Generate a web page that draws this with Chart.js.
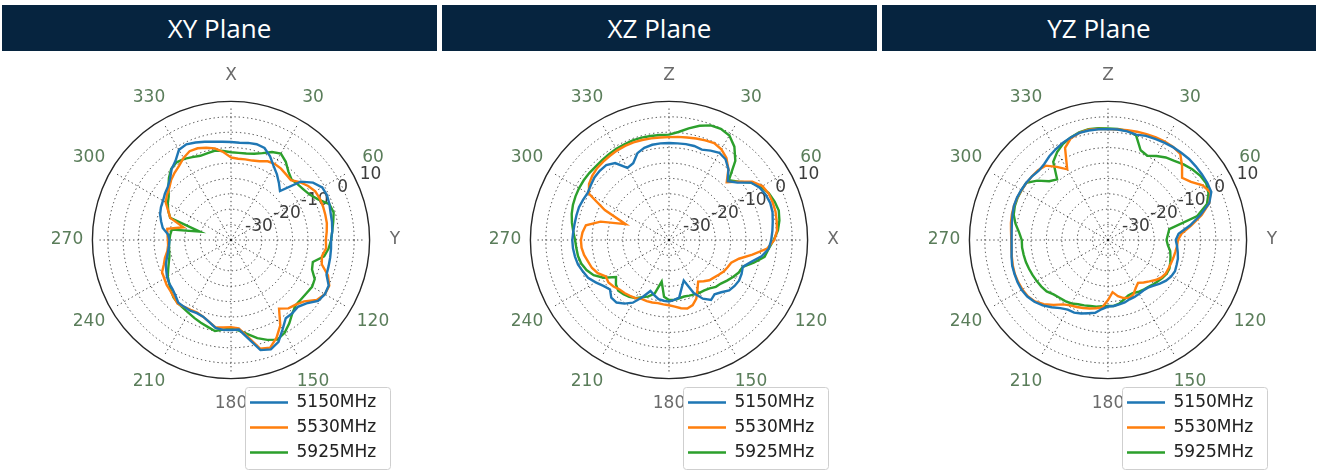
<!DOCTYPE html>
<html>
<head>
<meta charset="utf-8">
<script src="https://cdn.jsdelivr.net/npm/chart.js@4.4.0/dist/chart.umd.min.js"></script>
<style>
  body { margin: 0; width: 1318px; height: 474px; background: #fff; position: relative; overflow: hidden; }
  .bar { position: absolute; top: 5px; height: 46px; background: #06243f; color: #fff;
         font: 26px 'Open Sans', sans-serif; display: flex; align-items: center; justify-content: center; }
  .plot { position: absolute; top: 40px; width: 437px; height: 434px; }
</style>
</head>
<body>
<div class="bar" style="left:2px;width:435px">XY Plane</div>
<div class="bar" style="left:442px;width:435px">XZ Plane</div>
<div class="bar" style="left:882px;width:434px">YZ Plane</div>
<div class="plot" style="left:1px"><canvas id="xy"></canvas></div>
<div class="plot" style="left:439px"><canvas id="xz"></canvas></div>
<div class="plot" style="left:878px"><canvas id="yz"></canvas></div>
<script>
// angle in degrees, 0 at top, clockwise
const ANGLES = [0, 5, 10, 15, 20, 25, 30, 35, 40, 45, 50, 55,
  60, 65, 70, 75, 80, 85, 90, 95, 100, 105, 110, 115,
  120, 125, 130, 135, 140, 145, 150, 155, 160, 165, 170, 175,
  180, 185, 190, 195, 200, 205, 210, 215, 220, 225, 230, 235,
  240, 245, 250, 255, 260, 265, 270, 275, 280, 285, 290, 295,
  300, 305, 310, 315, 320, 325, 330, 335, 340, 345, 350, 355];

const ANGLE_LABELS = [0, 30, 60, 90, 120, 150, 180, 210, 240, 270, 300, 330];
const SERIES_NAMES = ['5150MHz', '5530MHz', '5925MHz'];
const COLORS = ['#1f77b4', '#ff7f0e', '#2ca02c'];
const RADIAL_TICKS = [-30, -20, -10, 0, 10];

// gain in dB, one value per angle above
const XY_5150 = [-8.2, -8.3, -8.0, -7.8, -8.2, -10.0, -12.3, -14.0, -15.8, -17.5, -10.5, -7.5,
  -5.8, -5.6, -6.0, -6.5, -6.7, -7.0, -7.5, -7.4, -7.3, -7.2, -7.0, -5.0,
  -4.8, -5.5, -8.0, -9.3, -9.0, -9.0, -6.5, -3.5, -2.2, -3.0, -7.5, -10.8,
  -10.8, -10.7, -11.0, -12.5, -13.5, -13.8, -13.5, -13.5, -13.4, -14.5, -15.2, -15.5,
  -16.0, -16.8, -17.5, -18.5, -19.3, -19.8, -20.0, -19.5, -17.5, -16.5, -15.5, -14.9,
  -14.5, -13.8, -13.2, -12.0, -10.0, -8.6, -6.2, -5.7, -6.3, -7.0, -7.6, -8.0];
const XY_5530 = [-13.2, -13.5, -13.4, -13.3, -12.8, -11.8, -11.5, -11.7, -12.2, -12.5, -10.8, -9.4,
  -8.4, -8.2, -8.2, -8.3, -8.4, -8.8, -9.2, -9.0, -10.0, -9.5, -6.5, -4.8,
  -4.8, -6.0, -9.0, -10.3, -11.0, -12.8, -8.0, -5.0, -2.8, -3.5, -8.0, -11.2,
  -11.7, -11.5, -11.2, -12.5, -13.5, -14.0, -13.8, -13.5, -13.0, -13.8, -14.3, -14.5,
  -15.0, -15.3, -16.8, -17.8, -19.0, -19.5, -19.5, -19.3, -19.0, -24.0, -19.0, -17.5,
  -15.5, -14.6, -13.8, -12.5, -11.5, -10.6, -9.2, -8.2, -8.3, -9.0, -9.8, -11.3];
const XY_5925 = [-11.5, -11.6, -11.5, -11.0, -10.0, -8.5, -7.6, -9.0, -11.0, -12.2, -11.8, -11.3,
  -10.5, -8.8, -6.0, -5.5, -6.3, -7.0, -7.5, -8.2, -9.3, -12.5, -12.0, -10.0,
  -9.6, -10.0, -10.2, -10.2, -9.0, -7.0, -5.2, -4.3, -5.5, -7.0, -9.0, -10.5,
  -11.3, -10.8, -10.0, -10.8, -11.4, -12.0, -12.6, -13.0, -13.2, -13.6, -14.5, -15.5,
  -16.3, -17.5, -18.5, -19.3, -19.6, -19.8, -20.0, -20.2, -20.5, -29.5, -19.0, -17.5,
  -16.3, -15.3, -13.5, -11.5, -9.8, -9.2, -9.6, -10.3, -10.9, -10.8, -10.5, -11.0];

const XZ_5150 = [-8.5, -8.5, -8.4, -8.4, -8.8, -8.0, -7.3, -8.0, -10.0, -13.0, -11.0, -7.5,
  -6.0, -5.3, -5.0, -5.2, -5.8, -6.3, -6.8, -7.5, -9.5, -12.5, -14.5, -14.0,
  -13.7, -14.0, -14.5, -16.0, -17.0, -16.2, -18.0, -21.0, -26.0, -24.0, -21.0, -20.5,
  -20.0, -20.2, -20.5, -21.5, -22.4, -19.5, -16.5, -14.8, -13.5, -13.5, -15.0, -14.0,
  -12.5, -11.0, -10.2, -9.4, -9.0, -8.7, -8.6, -8.8, -8.9, -8.9, -8.9, -9.2,
  -9.5, -9.0, -8.4, -8.2, -8.3, -9.5, -13.0, -12.5, -10.0, -9.0, -8.6, -8.5];
const XZ_5530 = [-6.6, -6.4, -6.2, -5.9, -5.6, -5.3, -6.0, -7.5, -10.0, -13.5, -10.5, -7.0,
  -5.0, -4.3, -4.2, -4.2, -4.5, -4.8, -5.8, -8.0, -12.5, -16.5, -18.5, -19.0,
  -19.5, -20.3, -21.0, -21.5, -22.5, -23.5, -21.5, -19.0, -17.5, -17.0, -17.5, -18.3,
  -18.8, -19.0, -19.2, -19.0, -18.9, -18.9, -18.2, -17.9, -17.5, -17.3, -16.5, -16.0,
  -16.3, -14.5, -13.4, -12.8, -12.0, -11.5, -11.4, -11.8, -12.6, -17.0, -25.0, -17.0,
  -10.0, -8.3, -7.5, -7.0, -6.8, -6.6, -6.4, -6.3, -6.3, -6.4, -6.5, -6.6];
const XZ_5925 = [-5.8, -4.8, -3.2, -1.6, -0.4, -0.2, -0.8, -3.0, -6.5, -12.5, -10.5, -7.5,
  -5.5, -4.2, -3.5, -3.1, -3.6, -4.5, -6.0, -7.5, -8.5, -11.5, -14.5, -15.0,
  -16.0, -17.0, -18.0, -18.5, -19.5, -20.0, -20.2, -20.5, -20.8, -21.0, -20.8, -20.5,
  -20.5, -21.5, -26.3, -22.0, -20.5, -19.5, -18.2, -17.5, -17.0, -16.7, -17.5, -19.0,
  -15.5, -13.0, -11.5, -10.5, -10.0, -9.8, -9.5, -8.8, -8.0, -7.3, -6.8, -6.5,
  -6.3, -6.2, -6.2, -6.3, -6.2, -6.0, -5.8, -5.7, -5.6, -5.6, -5.7, -5.8];

const YZ_5150 = [-4.0, -4.0, -4.2, -4.6, -4.0, -3.8, -3.5, -3.2, -3.0, -2.8, -2.8, -2.8,
  -2.8, -3.0, -5.0, -9.0, -13.0, -17.0, -18.0, -17.5, -17.0, -16.5, -16.3, -16.0,
  -16.3, -17.0, -18.0, -19.0, -19.8, -20.0, -19.8, -19.6, -19.5, -19.0, -18.8, -18.5,
  -18.4, -17.5, -16.0, -15.4, -14.6, -14.0, -13.9, -13.0, -11.5, -10.0, -8.8, -8.0,
  -7.6, -7.6, -7.7, -7.8, -8.2, -8.6, -8.7, -8.6, -8.3, -7.9, -7.5, -7.4,
  -7.5, -7.6, -7.8, -8.2, -7.8, -6.8, -6.0, -5.2, -4.6, -4.0, -3.9, -3.9];
const YZ_5530 = [-4.0, -4.0, -3.8, -3.6, -3.4, -3.2, -3.1, -3.1, -3.5, -6.0, -8.6, -7.1,
  -4.5, -3.3, -5.0, -8.5, -12.5, -16.0, -17.3, -17.5, -17.8, -18.0, -18.2, -18.3,
  -18.3, -18.8, -19.8, -21.0, -22.0, -23.0, -22.0, -20.5, -20.0, -20.5, -21.5, -23.0,
  -20.5, -18.0, -17.5, -17.0, -16.5, -16.0, -15.5, -14.5, -12.5, -10.5, -9.0, -8.2,
  -7.9, -7.8, -7.8, -8.0, -8.3, -8.5, -8.6, -8.4, -8.0, -7.7, -7.5, -7.5,
  -7.6, -7.7, -7.8, -7.9, -8.5, -11.0, -13.5, -7.0, -4.8, -4.0, -3.6, -3.8];
const YZ_5925 = [-3.8, -3.8, -4.0, -4.8, -9.0, -9.8, -8.5, -7.3, -6.5, -5.3, -4.3, -3.5,
  -3.2, -4.0, -5.8, -10.0, -19.8, -20.5, -21.0, -20.5, -19.5, -19.0, -18.5, -18.0,
  -18.0, -18.5, -19.0, -19.5, -20.0, -20.2, -20.5, -21.0, -20.8, -20.0, -19.0, -18.5,
  -18.6, -18.4, -18.0, -17.8, -17.4, -17.0, -16.2, -15.8, -15.5, -15.0, -14.0, -13.6,
  -13.3, -13.0, -12.7, -12.4, -12.2, -12.0, -12.0, -11.0, -9.5, -8.3, -7.8, -7.6,
  -7.6, -7.6, -10.0, -13.0, -14.3, -9.0, -7.0, -5.5, -4.6, -3.8, -3.5, -3.6];

// radial tick labels are written upright along this ray
const LABEL_RAY = 65;

// tick labels and angle labels, written upright and centred like the original
const axisText = {
  id: 'axisText',
  beforeDatasetsDraw(chart, args, opts) {
    const s = chart.scales.r, ctx = chart.ctx;
    const a = LABEL_RAY * Math.PI / 180;
    ctx.save();
    ctx.font = '17px "DejaVu Sans"';
    ctx.textAlign = 'center';
    ctx.textBaseline = 'middle';
    ctx.fillStyle = '#3c3c3c';
    RADIAL_TICKS.forEach(v => {
      const d = s.getDistanceFromCenterForValue(v);
      ctx.fillText(String(v), s.xCenter + d * Math.sin(a), s.yCenter - d * Math.cos(a));
    });
    ANGLE_LABELS.forEach(ang => {
      const i = ANGLES.indexOf(ang);
      const p = s.getPointPosition(i, s.drawingArea + 10);
      let t = String(ang);
      if (ang === 0) t = opts.top;
      if (ang === 90) t = opts.right;
      ctx.fillStyle = (ang % 90 === 0 && ang !== 270) ? '#6a6a6a' : '#5a7d5a';
      ctx.fillText(t, p.x, p.y);
    });
    ctx.restore();
  }
};

const legendFrame = {
  id: 'legendFrame',
  afterLayout(chart) {
    const s = chart.scales.r, lg = chart.legend;
    lg.left = s.xCenter + 11;
    lg.right = lg.left + lg.width;
    lg.top = s.yCenter + 146;
    lg.height = 90;
    lg.bottom = lg.top + 90;
  },
  afterDraw(chart) {
    const lg = chart.legend, ctx = chart.ctx;
    ctx.save();
    ctx.beginPath();
    ctx.roundRect(lg.left + 3.5, lg.top + 1.5, 145, 82, 3);
    ctx.fillStyle = 'rgba(255,255,255,0.92)';
    ctx.fill();
    ctx.strokeStyle = '#cfcfcf';
    ctx.lineWidth = 1;
    ctx.stroke();
    ctx.restore();
    lg.draw();
  }
};

function makeChart(id, top, right, series) {
  const labels = ANGLES;
  return new Chart(document.getElementById(id), {
    type: 'radar',
    data: {
      labels: labels,
      datasets: series.map((s, k) => ({
        label: SERIES_NAMES[k],
        data: s,
        borderColor: COLORS[k],
        backgroundColor: COLORS[k],
        borderWidth: 2.4,
        pointRadius: 0,
        pointHoverRadius: 0,
        fill: false,
        tension: 0
      }))
    },
    options: {
      responsive: true,
      maintainAspectRatio: false,
      animation: false,
      layout: { padding: { left: 30, right: 7, top: 46, bottom: 80 } },
      plugins: {
        axisText: { top: top, right: right },
        legend: {
          position: 'chartArea',
          align: 'start',
          labels: {
            usePointStyle: true,
            pointStyle: 'line',
            pointStyleWidth: 38,
            padding: 8,
            color: '#222',
            font: { family: 'DejaVu Sans', size: 17 }
          }
        },
        tooltip: { enabled: false }
      },
      scales: {
        r: {
          min: -40,
          max: 10,
          startAngle: 0,
          ticks: { stepSize: 5, display: false },
          pointLabels: { display: false },
          grid: {
            circular: true,
            color: c => c.tick.value === 10 ? 'rgba(0,0,0,0)' : (c.tick.value === 5 ? '#262626' : 'rgba(30,30,30,0.85)'),
            lineWidth: c => c.tick.value === 5 ? 1.4 : 1
          },
          border: {
            dash: c => c.tick.value === 5 ? [] : [1.3, 2.9]
          },
          angleLines: {
            color: c => labels[c.index] % 30 === 0 ? 'rgba(30,30,30,0.85)' : 'rgba(0,0,0,0)',
            lineWidth: 1,
            borderDash: c => {
              const s = c.chart.scales.r;
              const end = s.getDistanceFromCenterForValue(5);
              const d = [];
              for (let t = 0; t + 4.2 < end; t += 4.2) d.push(1.3, 2.9);
              d.push(0, 60);
              return d;
            }
          }
        }
      }
    },
    plugins: [axisText, legendFrame]
  });
}

makeChart('xy', 'X', 'Y', [XY_5150, XY_5530, XY_5925]);
makeChart('xz', 'Z', 'X', [XZ_5150, XZ_5530, XZ_5925]);
makeChart('yz', 'Z', 'Y', [YZ_5150, YZ_5530, YZ_5925]);
</script>
</body>
</html>
